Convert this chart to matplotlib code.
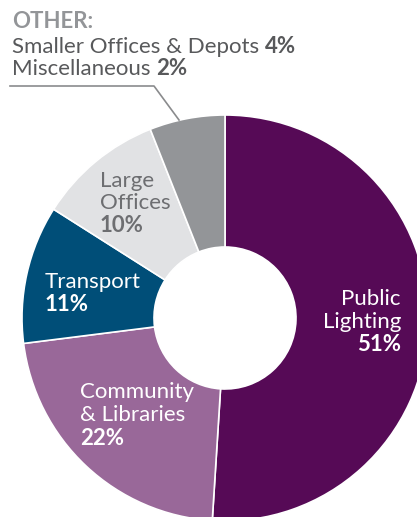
import matplotlib
matplotlib.use("Agg")
import matplotlib.pyplot as plt

# energy use by category (%)
categories = ["Public Lighting", "Community & Libraries", "Transport", "Large Offices", "Other"]
shares = [51, 22, 11, 10, 6]
colors = ["#560a56", "#996899", "#004e78", "#e1e2e4", "#939598"]
other_names = ["Smaller Offices & Depots", "Miscellaneous"]
other_shares = [4, 2]

plt.rcParams["font.family"] = ["Lato", "DejaVu Sans"]

W, H = 417, 517
fig = plt.figure(figsize=(W / 100, H / 100), dpi=100)
ax = fig.add_axes([0, 0, 1, 1])

R, r = 203, 71
ax.pie(shares, colors=colors, startangle=-90, counterclock=True,
       center=(225, 318), radius=R, frame=True,
       wedgeprops=dict(width=R - r, edgecolor="white", linewidth=1.2))
ax.set_xlim(0, W)
ax.set_ylim(H, 0)
ax.set_aspect("equal")
ax.axis("off")

fs = 16
renderer = fig.canvas.get_renderer()


def two_part(x, y, normal, bold, color, size=fs):
    t = ax.text(x, y, normal + " ", color=color, fontsize=size, va="baseline", ha="left")
    bb = t.get_window_extent(renderer)
    x2 = ax.transData.inverted().transform((bb.x1, 0))[0]
    ax.text(x2, y, bold, color=color, fontsize=size, fontweight="bold", va="baseline", ha="left")


ax.text(12, 28, "OTHER:", color="#939598", fontsize=fs, fontweight="bold", va="baseline")
two_part(12, 53, other_names[0], f"{other_shares[0]}%", "#58595b")
two_part(12, 75, other_names[1], f"{other_shares[1]}%", "#58595b")
ax.plot([10, 154, 179], [86, 86, 120], color="#8a8b8d", lw=1.2)

# slice labels
ax.text(100, 187, "Large", color="#6d6e71", fontsize=fs, va="baseline")
ax.text(100, 209, "Offices", color="#6d6e71", fontsize=fs, va="baseline")
ax.text(100, 232, f"{shares[3]}%", color="#6d6e71", fontsize=fs, fontweight="bold", va="baseline")

ax.text(45, 288, "Transport", color="white", fontsize=fs, va="baseline")
ax.text(45, 311, f"{shares[2]}%", color="white", fontsize=fs, fontweight="bold", va="baseline")

ax.text(80, 398, "Community", color="white", fontsize=fs, va="baseline")
ax.text(80, 421, "& Libraries", color="white", fontsize=fs, va="baseline")
ax.text(80, 445, f"{shares[1]}%", color="white", fontsize=fs, fontweight="bold", va="baseline")

ax.text(401, 305, "Public", color="white", fontsize=fs, ha="right", va="baseline")
ax.text(401, 328, "Lighting", color="white", fontsize=fs, ha="right", va="baseline")
ax.text(401, 351, f"{shares[0]}%", color="white", fontsize=fs, fontweight="bold", ha="right", va="baseline")

fig.savefig("out.png", dpi=100)
